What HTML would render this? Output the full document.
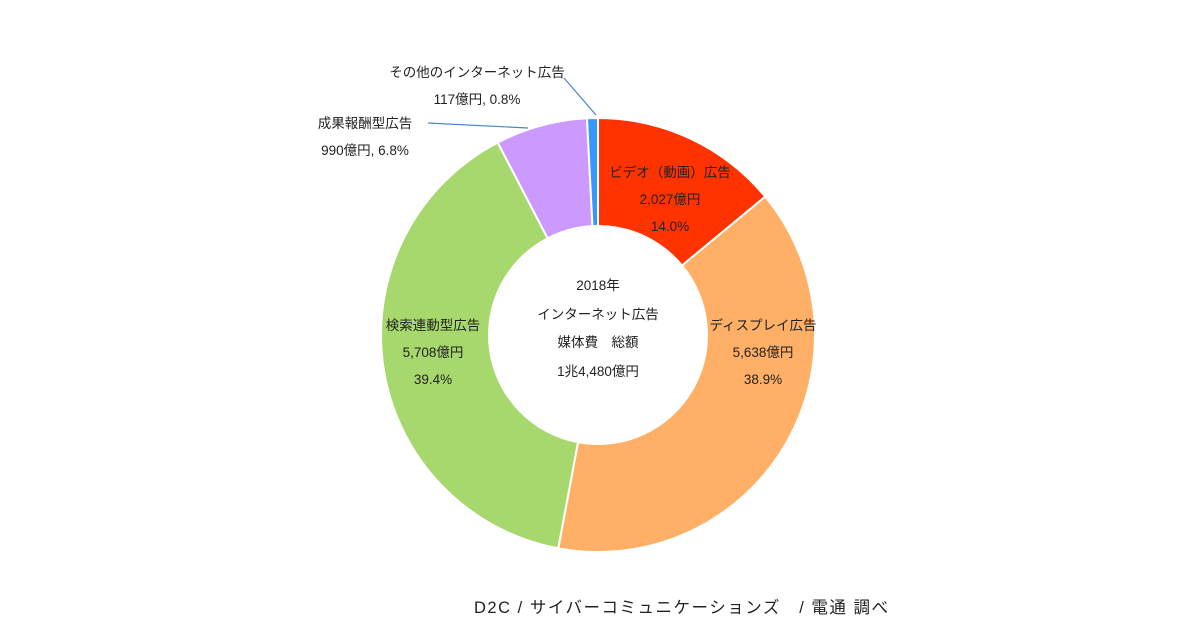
<!DOCTYPE html>
<html><head><meta charset="utf-8"><style>
body{margin:0;background:#fff;}
svg text{font-family:"Liberation Sans","Noto Sans CJK JP",sans-serif;font-size:13.5px;fill:#222;}
</style></head><body>
<svg width="1200" height="630">
<g id="slices"></g>
<line x1="564" y1="78" x2="596" y2="115" stroke="#4a86c5" stroke-width="1.2"/>
<line x1="428" y1="123" x2="528" y2="128" stroke="#4a86c5" stroke-width="1.2"/>
<g text-anchor="middle">
<text x="477" y="77">その他のインターネット広告</text>
<text x="477" y="104">117億円, 0.8%</text>
<text x="365" y="128">成果報酬型広告</text>
<text x="365" y="155">990億円, 6.8%</text>
<text x="670" y="177">ビデオ（動画）広告</text>
<text x="670" y="204">2,027億円</text>
<text x="670" y="231">14.0%</text>
<text x="763" y="330">ディスプレイ広告</text>
<text x="763" y="357">5,638億円</text>
<text x="763" y="384">38.9%</text>
<text x="433" y="330">検索連動型広告</text>
<text x="433" y="357">5,708億円</text>
<text x="433" y="384">39.4%</text>
<text x="598" y="290">2018年</text>
<text x="598" y="319">インターネット広告</text>
<text x="598" y="347">媒体費　総額</text>
<text x="598" y="376">1兆4,480億円</text>
</g>
<text x="474" y="613" textLength="414" lengthAdjust="spacing" style="font-size:16.5px;white-space:pre">D2C / サイバーコミュニケーションズ   / 電通 調べ</text>
</svg>
<script>
const categories=["ビデオ（動画）広告","ディスプレイ広告","検索連動型広告","成果報酬型広告","その他のインターネット広告"];
const values=[2027,5638,5708,990,117];
const colors=["#FF3300","#FFB066","#A6D86E","#CC99FF","#3399FF"];
const cx=598,cy=335,R=217,r=109;
const g=document.getElementById('slices');
const total=values.reduce((a,b)=>a+b,0);
let a0=0;
function pt(rad,a){return [cx+rad*Math.sin(a),cy-rad*Math.cos(a)];}
values.forEach((v,i)=>{
  const a1=a0+v/total*2*Math.PI;
  const large=(a1-a0)>Math.PI?1:0;
  const p1=pt(R,a0),p2=pt(R,a1),p3=pt(r,a1),p4=pt(r,a0);
  const p=document.createElementNS('http://www.w3.org/2000/svg','path');
  p.setAttribute('d',`M${p1}A${R},${R} 0 ${large} 1 ${p2}L${p3}A${r},${r} 0 ${large} 0 ${p4}Z`);
  p.setAttribute('fill',colors[i]);
  p.setAttribute('stroke','#fff');
  p.setAttribute('stroke-width','2');
  
  
  g.appendChild(p);
  a0=a1;
});
</script>
</body></html>
